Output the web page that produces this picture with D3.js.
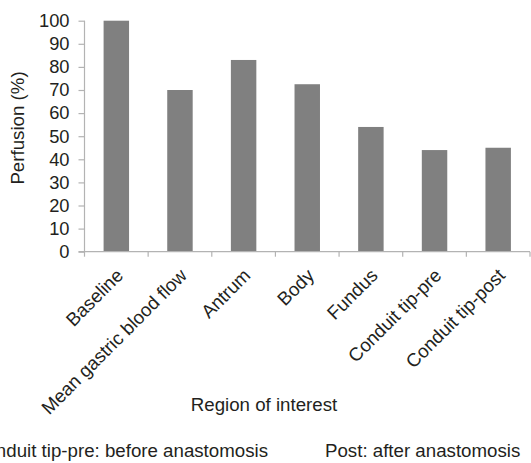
<!DOCTYPE html>
<html>
<head>
<meta charset="utf-8">
<script src="https://cdn.jsdelivr.net/npm/d3@7"></script>
<style>
  html, body { margin: 0; padding: 0; background: #fff; }
  svg { display: block; }
  text { font-family: "Liberation Sans", Arial, Helvetica, sans-serif; fill: #231f20; }
</style>
</head>
<body>
<script>
const categories = ["Baseline", "Mean gastric blood flow", "Antrum", "Body", "Fundus", "Conduit tip-pre", "Conduit tip-post"];
const perfusion = [100, 70, 83, 72.5, 54, 44, 45];
const yTicks = [0, 10, 20, 30, 40, 50, 60, 70, 80, 90, 100];
const yTitle = "Perfusion (%)";
const xTitle = "Region of interest";
const notes = ["Conduit tip-pre: before anastomosis", "Post: after anastomosis"];

(function () {
const W = 531, H = 463;
const svg = d3.select("body").append("svg").attr("width", W).attr("height", H);

const mLeft = 84.5, mRight = 530, mTop = 20.7, mBottom = 251.7;
const axisColor = "#b3b3b3";
const fs = 18.7;

const x = d3.scaleBand().domain(categories).range([mLeft, mRight]).paddingInner(0.6).paddingOuter(0.3);
const xb = d3.scaleBand().domain(categories).range([mLeft, mRight]);
const y = d3.scaleLinear().domain([0, 100]).range([mBottom, mTop]);

// bars
svg.append("g").selectAll("rect").data(categories).join("rect")
  .attr("x", d => x(d))
  .attr("width", x.bandwidth())
  .attr("y", (d, i) => y(perfusion[i]))
  .attr("height", (d, i) => y(0) - y(perfusion[i]))
  .attr("fill", "#808080");

// y axis
const yAxis = d3.axisLeft(y).tickValues(yTicks).tickSize(6).tickPadding(9);
const gy = svg.append("g").attr("transform", `translate(${mLeft},0)`).call(yAxis);
gy.select(".domain").attr("stroke", axisColor).attr("stroke-width", 1.2).attr("d", `M0,${mTop}H0V${mBottom}`);
gy.selectAll(".tick line").attr("stroke", axisColor).attr("stroke-width", 1.2);
gy.selectAll(".tick text").attr("font-size", 18.3).attr("font-family", "Liberation Sans, Arial, sans-serif").attr("fill", "#231f20");

// x axis
const gx = svg.append("g").attr("transform", `translate(0,${mBottom})`);
gx.append("line").attr("x1", mLeft - 6).attr("x2", mRight).attr("y1", 0).attr("y2", 0)
  .attr("stroke", axisColor).attr("stroke-width", 1.2);
const bounds = categories.map(c => xb(c)).concat([mRight]);
gx.selectAll("line.tk").data(bounds).join("line").attr("class", "tk")
  .attr("x1", d => d).attr("x2", d => d).attr("y1", 0).attr("y2", 5)
  .attr("stroke", axisColor).attr("stroke-width", 1.2);
gx.selectAll("text.lab").data(categories).join("text").attr("class", "lab")
  .attr("text-anchor", "end")
  .attr("font-size", fs)
  .attr("transform", d => `translate(${xb(d) + xb.bandwidth() / 2 + 8},${25}) rotate(-45)`)
  .text(d => d);

// titles
svg.append("text").attr("text-anchor", "middle").attr("font-size", fs)
  .attr("transform", `translate(24,128) rotate(-90)`).text(yTitle);
svg.append("text").attr("text-anchor", "middle").attr("font-size", fs)
  .attr("x", 264).attr("y", 411).text(xTitle);

// notes
svg.append("text").attr("text-anchor", "end").attr("font-size", fs)
  .attr("x", 268).attr("y", 457).text(notes[0]);
svg.append("text").attr("text-anchor", "start").attr("font-size", fs)
  .attr("x", 325).attr("y", 457).text(notes[1]);
})();
</script>
</body>
</html>
